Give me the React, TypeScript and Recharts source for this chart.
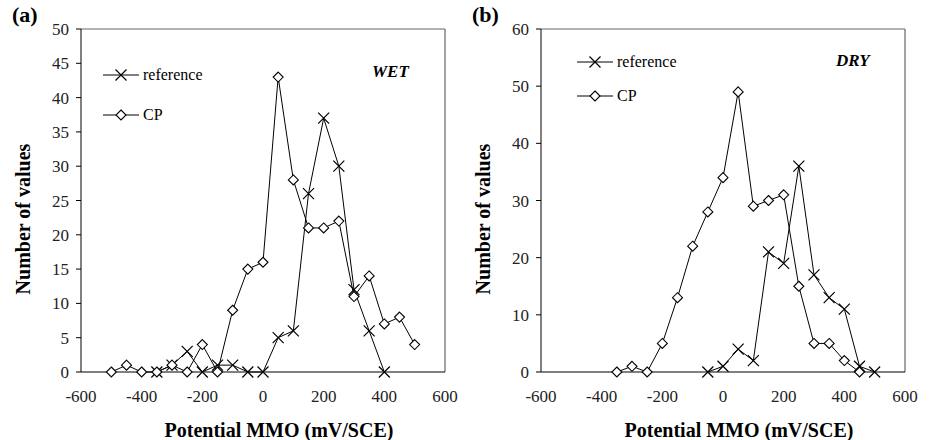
import React from 'react';
import { LineChart, Line, XAxis, YAxis, ReferenceLine } from 'recharts';

// potential (mV/SCE) and counts
const wetCpX = [-500, -450, -400, -350, -300, -250, -200, -150, -100, -50, 0, 50, 100, 150, 200, 250, 300, 350, 400, 450, 500];
const wetCpY = [0, 1, 0, 0, 1, 0, 4, 0, 9, 15, 16, 43, 28, 21, 21, 22, 11, 14, 7, 8, 4];
const wetRefX = [-350, -300, -250, -200, -150, -100, -50, 0, 50, 100, 150, 200, 250, 300, 350, 400];
const wetRefY = [0, 1, 3, 0, 1, 1, 0, 0, 5, 6, 26, 37, 30, 12, 6, 0];

const dryCpX = [-350, -300, -250, -200, -150, -100, -50, 0, 50, 100, 150, 200, 250, 300, 350, 400, 450];
const dryCpY = [0, 1, 0, 5, 13, 22, 28, 34, 49, 29, 30, 31, 15, 5, 5, 2, 0];
const dryRefX = [-50, 0, 50, 100, 150, 200, 250, 300, 350, 400, 450, 500];
const dryRefY = [0, 1, 4, 2, 21, 19, 36, 17, 13, 11, 1, 0];

const xTicks = [-600, -400, -200, 0, 200, 400, 600];
const wetTicks = [0, 5, 10, 15, 20, 25, 30, 35, 40, 45, 50];
const dryTicks = [0, 10, 20, 30, 40, 50, 60];

const FONT = '"Liberation Serif", "Times New Roman", serif';

const toRows = (xs: number[], ys: number[]) => xs.map((x, i) => ({ x, y: ys[i] }));

const Diamond = (props: any) => {
  const { cx, cy } = props;
  if (cx == null || cy == null) return null;
  const r = 5;
  return (
    <path
      d={`M${cx},${cy - r} L${cx + r},${cy} L${cx},${cy + r} L${cx - r},${cy} Z`}
      fill="#fff"
      stroke="#000"
      strokeWidth={1.1}
    />
  );
};

const Cross = (props: any) => {
  const { cx, cy } = props;
  if (cx == null || cy == null) return null;
  const r = 5.5;
  return (
    <path
      d={`M${cx - r},${cy - r} L${cx + r},${cy + r} M${cx - r},${cy + r} L${cx + r},${cy - r}`}
      stroke="#000"
      strokeWidth={1.2}
    />
  );
};

const LegendRow = ({ label, marker }: { label: string; marker: 'x' | 'd' }) => (
  <div style={{ display: 'flex', alignItems: 'center', height: 20 }}>
    <svg width={36} height={14} style={{ display: 'block' }}>
      <line x1={0} y1={7} x2={36} y2={7} stroke="#000" strokeWidth={1} />
      {marker === 'x' ? <Cross cx={18} cy={7} /> : <Diamond cx={18} cy={7} />}
    </svg>
    <span style={{ marginLeft: 4, fontSize: 16, fontFamily: FONT, lineHeight: '20px' }}>{label}</span>
  </div>
);

interface PanelProps {
  left: number;
  width: number;
  tag: string;
  cond: string;
  cpX: number[];
  cpY: number[];
  refX: number[];
  refY: number[];
  yMax: number;
  yTicks: number[];
  legendLeft: number;
  legendTop: number;
  legendGap: number;
  condLeft: number;
  condTop: number;
}

function Panel(p: PanelProps) {
  const tick = { fontSize: 17, fontFamily: FONT, fill: '#222' };
  return (
    <div style={{ position: 'absolute', left: p.left, top: 0, width: p.width, height: 440 }}>
      <LineChart
        width={p.width}
        height={440}
        margin={{ top: 29, right: p.width - 445, left: 0, bottom: 0 }}
      >
        <XAxis
          type="number"
          dataKey="x"
          domain={[-600, 600]}
          ticks={xTicks}
          tickLine={false}
          tickSize={4}
          tickMargin={14}
          height={68}
          stroke="#000"
          tick={tick}
          allowDuplicatedCategory={false}
        />
        <YAxis
          type="number"
          domain={[0, p.yMax]}
          ticks={p.yTicks}
          width={81}
          tickSize={5}
          tickMargin={7}
          stroke="#000"
          tick={tick}
        />
        <ReferenceLine y={p.yMax} stroke="#666" strokeWidth={1.2} />
        <ReferenceLine x={600} stroke="#666" strokeWidth={1.2} />
        <Line
          data={toRows(p.refX, p.refY)}
          dataKey="y"
          stroke="#000"
          strokeWidth={1}
          dot={<Cross />}
          activeDot={false}
          isAnimationActive={false}
        />
        <Line
          data={toRows(p.cpX, p.cpY)}
          dataKey="y"
          stroke="#000"
          strokeWidth={1}
          dot={<Diamond />}
          activeDot={false}
          isAnimationActive={false}
        />
      </LineChart>

      <div style={{ position: 'absolute', left: p.legendLeft, top: p.legendTop }}>
        <LegendRow label="reference" marker="x" />
        <div style={{ height: p.legendGap }} />
        <LegendRow label="CP" marker="d" />
      </div>

      <div
        style={{
          position: 'absolute',
          left: p.condLeft,
          top: p.condTop,
          fontFamily: FONT,
          fontWeight: 'bold',
          fontStyle: 'italic',
          fontSize: 17,
        }}
      >
        {p.cond}
      </div>

      <div
        style={{
          position: 'absolute',
          left: 12,
          top: 2,
          fontFamily: FONT,
          fontWeight: 'bold',
          fontSize: 22,
        }}
      >
        {p.tag}
      </div>

      <div
        style={{
          position: 'absolute',
          left: 23,
          top: 219,
          transform: 'translate(-50%, -50%) rotate(-90deg)',
          whiteSpace: 'nowrap',
          fontFamily: FONT,
          fontWeight: 'bold',
          fontSize: 20,
        }}
      >
        Number of values
      </div>

      <div
        style={{
          position: 'absolute',
          left: 279,
          top: 430,
          transform: 'translate(-50%, -50%)',
          whiteSpace: 'nowrap',
          fontFamily: FONT,
          fontWeight: 'bold',
          fontSize: 20,
        }}
      >
        Potential MMO (mV/SCE)
      </div>
    </div>
  );
}

export default function App() {
  return (
    <div style={{ position: 'absolute', left: 0, top: 0, width: 931, height: 440, background: '#fff' }}>
      <Panel
        left={0}
        width={465}
        tag="(a)"
        cond="WET"
        cpX={wetCpX}
        cpY={wetCpY}
        refX={wetRefX}
        refY={wetRefY}
        yMax={50}
        yTicks={wetTicks}
        legendLeft={103}
        legendTop={65}
        legendGap={20}
        condLeft={372}
        condTop={62}
      />
      <Panel
        left={460}
        width={471}
        tag="(b)"
        cond="DRY"
        cpX={dryCpX}
        cpY={dryCpY}
        refX={dryRefX}
        refY={dryRefY}
        yMax={60}
        yTicks={dryTicks}
        legendLeft={117}
        legendTop={52}
        legendGap={14}
        condLeft={376}
        condTop={51}
      />
    </div>
  );
}
